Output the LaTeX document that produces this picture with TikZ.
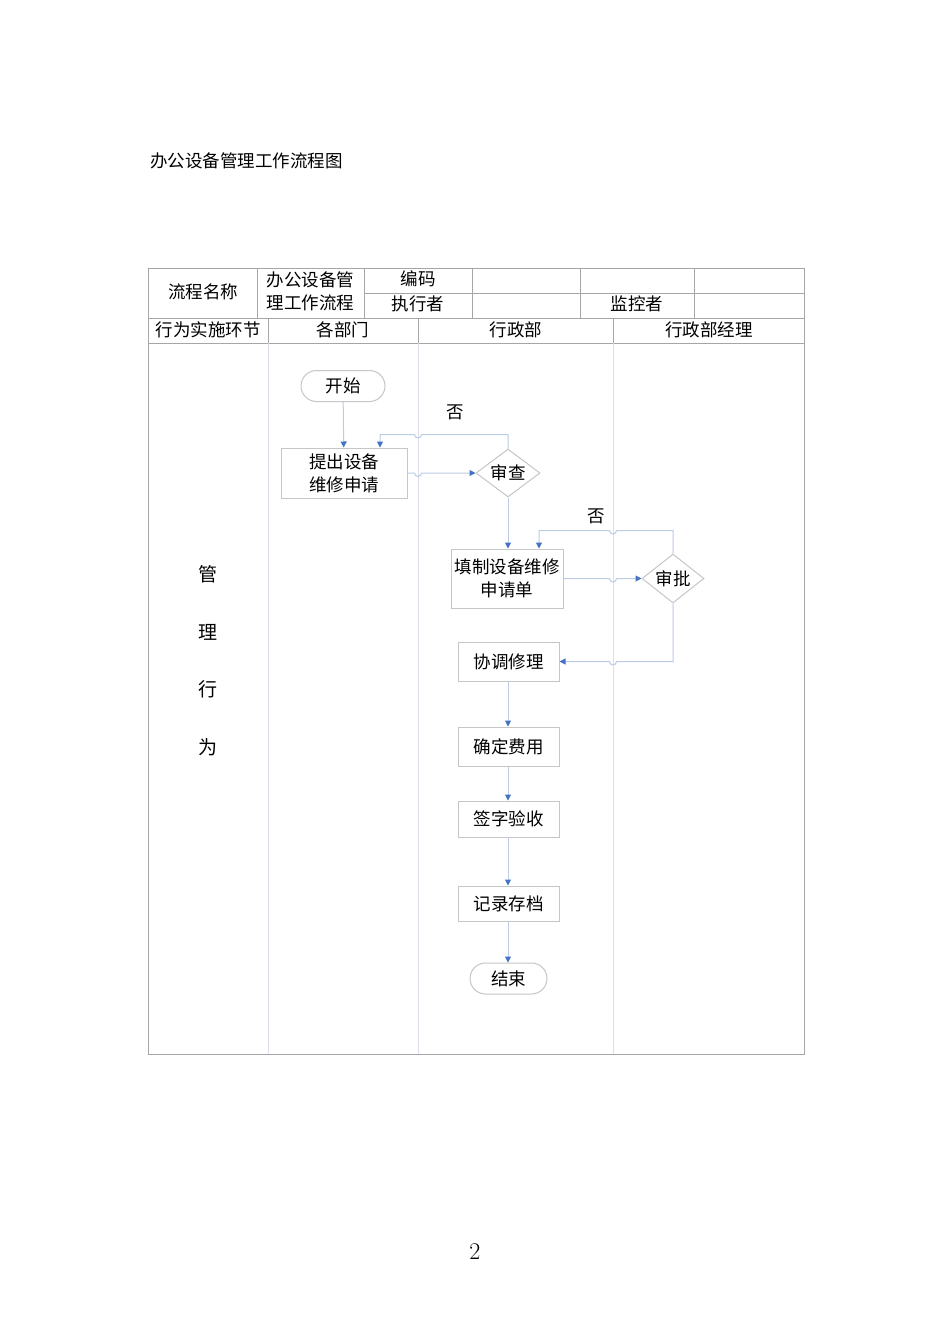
\documentclass[tikz,border=0pt]{standalone}
\usepackage{fontspec}
\newfontfamily\cjk{Noto Sans CJK SC}
\usetikzlibrary{arrows.meta,shapes.geometric,positioning,calc}

\definecolor{gridline}{HTML}{A6A6A6}
\definecolor{laneline}{HTML}{DDDDEE}
\definecolor{boxline}{HTML}{C6C6C6}
\definecolor{flowline}{HTML}{BCCBE6}
\definecolor{tipblue}{HTML}{4472C4}

\tikzset{
  txt/.style={font=\cjk\fontsize{17.5}{23}\selectfont, inner sep=0pt, align=center},
  procbox/.style={txt, draw=boxline, line width=1pt, rectangle,
    minimum width=101pt, minimum height=39pt},
  termbox/.style={txt, draw=boxline, line width=1pt, rectangle,
    rounded corners=15.5pt, minimum height=31pt},
  decbox/.style={txt, draw=boxline, line width=1pt, diamond, aspect=1.3,
    minimum width=64pt, minimum height=48pt},
  flow/.style={draw=flowline, line width=1pt,
    -{Triangle[width=6pt,length=6pt,color=tipblue]}},
  grid/.style={draw=gridline, line width=1pt},
  lane/.style={draw=laneline, line width=1pt},
}

\begin{document}
\begin{tikzpicture}[x=1pt,y=-1pt]
 \useasboundingbox (0,0) rectangle (950,1344);
 \fill[white] (0,0) rectangle (950,1344);
 % title
 \node[txt,anchor=west] (title) at (150,161) {办公设备管理工作流程图};
 %
 % table frame
 \draw[grid] (148,268) rectangle (804,1054);
 \draw[grid] (148,318) -- (804,318);
 \draw[grid] (148,343) -- (804,343);
 \draw[grid] (364,293) -- (804,293);
 \foreach \x in {257,364,472,580,694}
   \draw[grid] (\x,268) -- (\x,318);
 \foreach \x in {268,418,613} {
   \draw[grid] (\x,318) -- (\x,343);
   \draw[lane] (\x,343) -- (\x,1054);
 }
 \coordinate (laneB) at (418,0);
 \coordinate (laneC) at (613,0);
 %
 % header texts
 \node[txt] (hname)  at (203,292) {流程名称};
 \node[txt] (hflow)  at (310.5,291) {办公设备管\\理工作流程};
 \node[txt] (hcode)  at (418,279) {编码};
 \node[txt] (hexec)  at (418,304) {执行者};
 \node[txt] (hmon)   at (637,304) {监控者};
 \node[txt] (hstep)  at (208,330) {行为实施环节};
 \node[txt] (hdept)  at (343,330) {各部门};
 \node[txt] (hadmin) at (516,330) {行政部};
 \node[txt] (hmgr)   at (709,330) {行政部经理};
 %
 % left column
 \foreach \c/\y in {管/574,理/632,行/689,为/747}
   \node[txt,font=\cjk\fontsize{19}{19}\selectfont] at (208,\y) {\c};
 %
 % flow nodes
 \node[termbox,minimum width=84pt] (start) at (343,386) {开始};
 \node[procbox,minimum width=126pt,minimum height=50pt] (apply) at (344,473) {提出设备\\维修申请};
 \node[decbox] (check) at (508,473) {审查};
 \node[procbox,minimum width=112pt,minimum height=59pt] (form) at (507,578.5) {填制设备维修\\申请单};
 \node[decbox,minimum width=62pt,minimum height=49pt] (approve) at (673,578.5) {审批};
 \node[procbox] (repair) at (508.5,661.5) {协调修理};
 \node[procbox,below=45pt of repair] (cost) {确定费用};
 \node[procbox,minimum height=36pt,below=34pt of cost] (sign) {签字验收};
 \node[procbox,minimum height=35pt,below=48pt of sign] (archive) {记录存档};
 \node[termbox,minimum width=77pt,below=41pt of archive] (end) {结束};
 \node[txt] (no1) at (455,412) {否};
 \node[txt] (no2) at (596,516) {否};
 %
 % connectors
 \draw[flow] (start) -- (apply);
 \draw[flow] (apply.east) -- ($(apply.east -| laneB)+(-3.5,0)$)
   arc[start angle=180,end angle=0,radius=3.5] -- (check.west);
 \draw[flow] (check.north) -- ++(0,-14) coordinate (c1)
   -- ($(c1 -| laneB)+(3.5,0)$) arc[start angle=0,end angle=180,radius=3.5]
   -- (c1 -| 380,0) -- (apply.north -| 380,0);
 \draw[flow] (check.south) -- (check.south |- form.north);
 \draw[flow] (form.east |- approve.west) -- ($(approve.west -| laneC)+(-3.5,0)$)
   arc[start angle=180,end angle=0,radius=3.5] -- (approve.west);
 \draw[flow] (approve.north) -- ++(0,-23) coordinate (c2)
   -- ($(c2 -| laneC)+(3.5,0)$) arc[start angle=0,end angle=180,radius=3.5]
   -- (c2 -| 539,0) -- (form.north -| 539,0);
 \draw[flow] (approve.south) -- (approve.south |- repair.east) coordinate (c3)
   -- ($(c3 -| laneC)+(3.5,0)$) arc[start angle=0,end angle=180,radius=3.5]
   -- (repair.east);
 \draw[flow] (repair.south -| 508,0) -- (cost.north -| 508,0);
 \draw[flow] (cost.south -| 508,0) -- (sign.north -| 508,0);
 \draw[flow] (sign.south -| 508,0) -- (archive.north -| 508,0);
 \draw[flow] (archive.south -| 508,0) -- (end.north -| 508,0);
 %
 % page number
 \node[font=\fontsize{24}{24}\selectfont] (page) at (475,1252) {2};
\end{tikzpicture}
\end{document}
